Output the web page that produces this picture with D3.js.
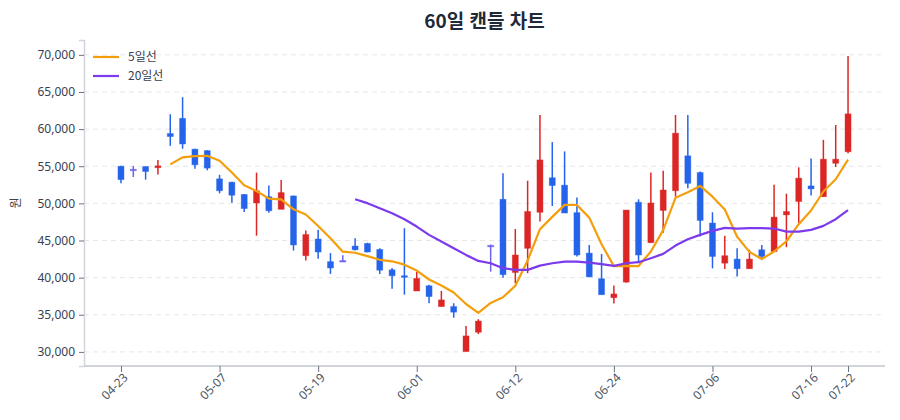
<!DOCTYPE html>
<html lang="ko">
<head>
<meta charset="utf-8">
<script src="https://cdn.jsdelivr.net/npm/d3@7"></script>
<style>
  html, body { margin: 0; padding: 0; background: #ffffff; }
  body { font-family: "Noto Sans CJK KR", "Noto Sans", sans-serif; }
  #chart { width: 900px; height: 420px; }
</style>
</head>
<body>
<div id="chart"></div>
<script>
const dates = [
  '04-23', '04-24', '04-25', '04-28', '04-29', '04-30', '05-02', '05-06', '05-07', '05-08',
  '05-09', '05-12', '05-13', '05-14', '05-15', '05-16', '05-19', '05-20', '05-21', '05-22',
  '05-23', '05-26', '05-27', '05-29', '06-01', '06-02', '06-03', '06-04', '06-05', '06-09',
  '06-10', '06-11', '06-12', '06-13', '06-16', '06-17', '06-18', '06-19', '06-20', '06-23',
  '06-24', '06-25', '06-26', '06-27', '06-30', '07-01', '07-02', '07-03', '07-06', '07-07',
  '07-08', '07-09', '07-10', '07-11', '07-14', '07-15', '07-16', '07-17', '07-21', '07-22'
];
const opens = [
  55000, 54600, 54950, 54800, 59400, 61450, 57300, 57100, 53300, 52850,
  51200, 50050, 50900, 49200, 51000, 42950, 45200, 42150, 42300, 44250,
  44600, 43800, 41050, 40250, 38200, 38900, 36100, 36100, 30050, 32650,
  44350, 50550, 40700, 43950, 48800, 53450, 52450, 48750, 43300, 39850,
  37300, 39400, 50150, 44700, 49050, 51700, 56400, 54150, 47350, 41950,
  42500, 41200, 43750, 43500, 48450, 50250, 52350, 50900, 55400, 56950
];
const highs = [
  55050, 55050, 55000, 55850, 62000, 64300, 57350, 57150, 53850, 52900,
  51250, 54150, 52400, 53150, 51050, 46350, 46450, 43300, 43000, 45300,
  44700, 43950, 41300, 46650, 40800, 39050, 38200, 36550, 33500, 34400,
  44450, 54050, 46550, 53050, 61900, 58250, 57000, 50800, 44400, 43200,
  38950, 49100, 50550, 54150, 54400, 61900, 61900, 54300, 48800, 45650,
  43950, 43750, 44400, 52500, 51300, 54850, 56050, 58550, 60550, 69850
];
const lows = [
  52700, 53550, 53200, 53900, 57750, 57350, 54650, 54450, 51350, 50100,
  48850, 45650, 48750, 49200, 43650, 42300, 42550, 40500, 42150, 43650,
  43400, 40500, 38500, 37700, 38200, 36550, 36100, 34600, 30050, 32400,
  40800, 40000, 39250, 40600, 47550, 49650, 48700, 42850, 40100, 37700,
  36500, 39300, 41950, 44700, 46050, 50900, 52050, 45550, 41250, 41150,
  40150, 41200, 42400, 43500, 44100, 47350, 51050, 50900, 54900, 56750
];
const closes = [
  53200, 54600, 54300, 55050, 59000, 58000, 55200, 54750, 51700, 51100,
  49300, 51700, 49000, 51450, 44400, 45800, 43450, 41300, 42300, 43750,
  43450, 41000, 40250, 40100, 39900, 37450, 37000, 35350, 32150, 34150,
  44350, 40400, 43050, 48900, 55850, 52400, 48700, 43050, 40100, 37700,
  37800, 49100, 43050, 50050, 51800, 59450, 52700, 47700, 42850, 42950,
  41200, 42500, 42850, 48150, 48900, 53400, 51950, 55950, 55950, 62050
];
const ma5 = [
  null, null, null, null, 55250, 56200, 56350, 56400, 55750, 54150,
  52450, 51650, 50650, 50550, 49200, 48500, 46950, 45300, 43500, 43350,
  42900, 42400, 42200, 41750, 40950, 39750, 38950, 38000, 36450, 35250,
  36600, 37350, 38900, 42300, 46520, 48180, 49800, 49780, 48080, 44500,
  41550, 41580, 41560, 43520, 46400, 50750, 51500, 52350, 50900, 49170,
  45500, 43470, 42500, 43520, 44900, 47200, 49040, 51600, 53250, 55900
];
const ma20 = [
  null, null, null, null, null, null, null, null, null, null,
  null, null, null, null, null, null, null, null, null, 50550,
  50030, 49350, 48680, 47870, 46880, 45760, 44860, 43960, 43060, 42250,
  41940, 41270, 41040, 41040, 41620, 41940, 42160, 42160, 42030, 41810,
  41580, 41940, 42080, 42620, 43200, 44320, 45180, 45760, 46300, 46700,
  46610, 46660, 46660, 46610, 46200, 46200, 46430, 46970, 47870, 49100
];
const yTicks = [30000, 35000, 40000, 45000, 50000, 55000, 60000, 65000, 70000];
const xTickLabels = ['04-23', '05-07', '05-19', '06-01', '06-12', '06-24', '07-06', '07-16', '07-22'];

const width = 900;
const height = 420;
const margin = { top: 40, right: 15, bottom: 54, left: 84 };
const upColor = '#dc2626';
const downColor = '#2563eb';
const flatColor = '#6d63ee';

const svg = d3.select('#chart').append('svg')
  .attr('width', width)
  .attr('height', height)
  .attr('viewBox', `0 0 ${width} ${height}`);

const x = d3.scalePoint()
  .domain(dates)
  .range([margin.left, width - margin.right])
  .padding(3);

const y = d3.scaleLinear()
  .domain([28100, 72000])
  .range([height - margin.bottom, margin.top]);

// title
svg.append('text')
  .attr('x', (margin.left + width - margin.right) / 2)
  .attr('y', 28)
  .attr('text-anchor', 'middle')
  .attr('font-size', '19px')
  .attr('font-weight', 'bold')
  .attr('fill', '#1f2937')
  .text('60일 캔들 차트');

// grid
svg.append('g')
  .selectAll('line')
  .data(yTicks)
  .enter().append('line')
  .attr('x1', margin.left)
  .attr('x2', width - margin.right)
  .attr('y1', (d) => y(d))
  .attr('y2', (d) => y(d))
  .attr('stroke', '#e5e7eb')
  .attr('stroke-width', 1)
  .attr('stroke-dasharray', '5,4');

// y axis
const yAxis = svg.append('g')
  .attr('transform', `translate(${margin.left},0)`)
  .call(d3.axisLeft(y).tickValues(yTicks).tickFormat(d3.format(',')).tickSize(5).tickPadding(4));
yAxis.select('.domain').attr('stroke', '#d1d5db').attr('stroke-width', 1.5);
yAxis.selectAll('.tick line').attr('stroke', '#6b7280');
yAxis.selectAll('.tick text')
  .attr('font-family', '"Noto Sans", sans-serif')
  .attr('font-size', '12px')
  .attr('fill', '#374151');

svg.append('text')
  .attr('transform', `translate(20,${(margin.top + height - margin.bottom) / 2}) rotate(-90)`)
  .attr('text-anchor', 'middle')
  .attr('font-size', '12px')
  .attr('fill', '#374151')
  .text('원');

// x axis
const xAxis = svg.append('g')
  .attr('transform', `translate(0,${height - margin.bottom})`)
  .call(d3.axisBottom(x).tickValues(xTickLabels).tickSize(6).tickSizeOuter(0));
xAxis.select('.domain')
  .attr('d', `M${margin.left},0H${width - margin.right}`)
  .attr('stroke', '#d1d5db')
  .attr('stroke-width', 2);
xAxis.selectAll('.tick line').attr('stroke', '#6b7280');
xAxis.selectAll('.tick text')
  .attr('font-family', '"Noto Sans", sans-serif')
  .attr('font-size', '12px')
  .attr('fill', '#4b5563')
  .attr('text-anchor', 'end')
  .attr('dx', '-0.3em')
  .attr('dy', '0.4em')
  .attr('transform', 'rotate(-45)');

// candles
const idx = d3.range(dates.length);
const bodyW = 6;
const candleColor = (i) => (closes[i] > opens[i] ? upColor : closes[i] < opens[i] ? downColor : flatColor);

const candles = svg.append('g').selectAll('g').data(idx).enter().append('g');

candles.append('line')
  .attr('x1', (i) => x(dates[i]))
  .attr('x2', (i) => x(dates[i]))
  .attr('y1', (i) => y(highs[i]))
  .attr('y2', (i) => y(lows[i]))
  .attr('stroke', candleColor)
  .attr('stroke-width', 1.5);

candles.append('rect')
  .attr('x', (i) => x(dates[i]) - bodyW / 2)
  .attr('y', (i) => y(Math.max(opens[i], closes[i])))
  .attr('width', bodyW)
  .attr('height', (i) => Math.max(1.5, Math.abs(y(opens[i]) - y(closes[i]))))
  .attr('fill', candleColor)
  .attr('stroke', candleColor)
  .attr('stroke-opacity', 0.5)
  .attr('stroke-width', 0.8);

// moving averages
const maLine = (values) => d3.line()
  .defined((i) => values[i] != null)
  .x((i) => x(dates[i]))
  .y((i) => y(values[i]))
  .curve(d3.curveLinear);

svg.append('path')
  .attr('d', maLine(ma5)(idx))
  .attr('fill', 'none')
  .attr('stroke', '#f59e0b')
  .attr('stroke-width', 2.2)
  .attr('stroke-linejoin', 'round');

svg.append('path')
  .attr('d', maLine(ma20)(idx))
  .attr('fill', 'none')
  .attr('stroke', '#7c3aed')
  .attr('stroke-width', 2.2)
  .attr('stroke-linejoin', 'round');

// legend
const legendItems = [
  { label: '5일선', color: '#f59e0b' },
  { label: '20일선', color: '#7c3aed' }
];
const legend = svg.append('g').attr('transform', 'translate(93,57)');
const li = legend.selectAll('g').data(legendItems).enter().append('g')
  .attr('transform', (d, i) => `translate(0,${i * 19})`);
li.append('line')
  .attr('x1', 0).attr('x2', 26)
  .attr('stroke', (d) => d.color)
  .attr('stroke-width', 2.2);
li.append('text')
  .attr('x', 35)
  .attr('dy', '0.35em')
  .attr('font-size', '12px')
  .attr('fill', '#374151')
  .text((d) => d.label);
</script>
</body>
</html>
